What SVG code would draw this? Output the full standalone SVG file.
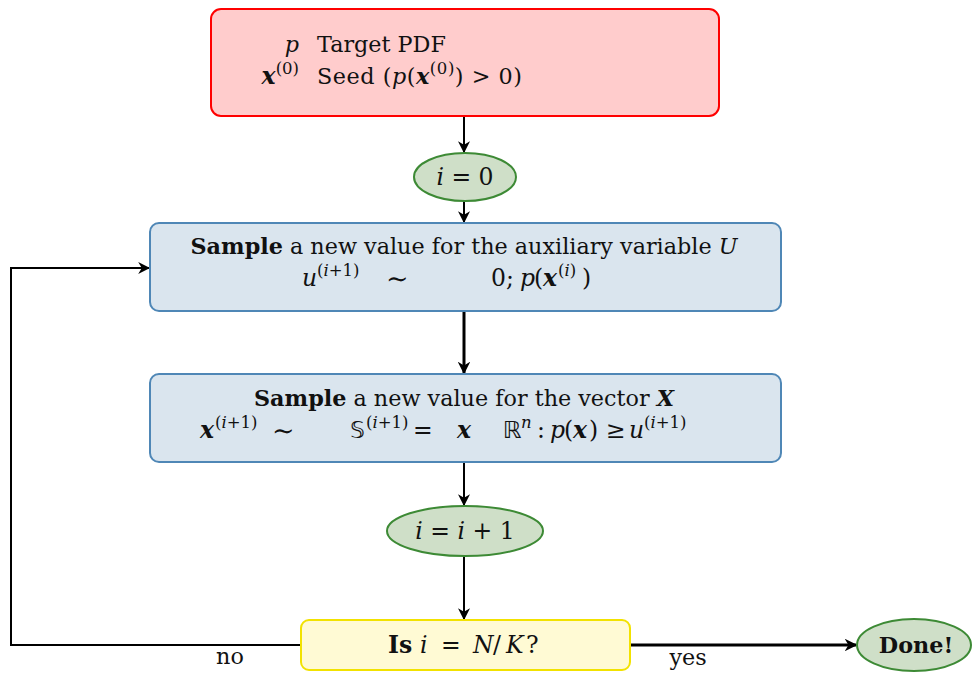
<svg xmlns="http://www.w3.org/2000/svg" width="972" height="673" viewBox="0 0 972 673">
<style>
text{font-family:"DejaVu Serif","Liberation Serif",serif;font-size:22.3px;fill:#111}
.it{font-style:italic}
.bi{font-style:italic;font-weight:bold}
.b{font-weight:bold}
.sup{font-size:16.5px}
.c{text-anchor:middle}
.e{text-anchor:end}
.conn{fill:none;stroke:#000;stroke-width:2}
.thick{stroke-width:3}
.red{fill:#ffcccc;stroke:#ff0000;stroke-width:2}
.blue{fill:#dae5ee;stroke:#4f87b6;stroke-width:2}
.green{fill:#cfdfc8;stroke:#3d8a35;stroke-width:2}
.yellow{fill:#fffad4;stroke:#f2e200;stroke-width:2}
.math{font-family:"DejaVu Sans","Noto Sans",sans-serif}
.m{font-size:23.5px}
.big{font-size:27px}
</style>
<defs>
<marker id="ah" viewBox="0 0 10 10" refX="9" refY="5" markerWidth="6" markerHeight="6" orient="auto" markerUnits="strokeWidth">
<path d="M0,0 L10,5 L0,10 L3,5 Z" fill="#000"/>
</marker>
<marker id="ah2" viewBox="0 0 10 10" refX="9" refY="5" markerWidth="4.2" markerHeight="4.2" orient="auto" markerUnits="strokeWidth">
<path d="M0,0 L10,5 L0,10 L3,5 Z" fill="#000"/>
</marker>
</defs>
<g id="connectors">
<line class="conn" x1="464" y1="117" x2="464" y2="152" marker-end="url(#ah)"/>
<line class="conn" x1="464" y1="201" x2="464" y2="222" marker-end="url(#ah)"/>
<line class="conn thick" x1="464" y1="312" x2="464" y2="373" marker-end="url(#ah2)"/>
<line class="conn" x1="464" y1="463" x2="464" y2="505" marker-end="url(#ah)"/>
<line class="conn" x1="464" y1="557" x2="464" y2="619" marker-end="url(#ah)"/>
<polyline class="conn" points="301,645 11,645 11,268 149,268" marker-end="url(#ah)"/>
<line class="conn thick" x1="631" y1="645" x2="856" y2="645" marker-end="url(#ah2)"/>
<text class="c" x="230" y="664">no</text>
<text class="c" x="688" y="665">yes</text>
</g>
<g id="input">
<rect class="red" x="211" y="9" width="508" height="107" rx="10"/>
<text class="e it" x="299" y="52">p</text>
<text x="317" y="52">Target PDF</text>
<text class="e" x="299" y="84"><tspan class="bi m">x</tspan><tspan class="sup" dy="-10">(0)</tspan></text>
<text x="317" y="84" textLength="205">Seed (<tspan class="it">p</tspan>(<tspan class="bi">x</tspan><tspan class="sup" dy="-10">(0)</tspan><tspan dy="10">) &gt; 0)</tspan></text>
</g>
<g id="init">
<ellipse class="green" cx="465" cy="177" rx="51" ry="24"/>
<text class="c m" x="465" y="185"><tspan class="it">i</tspan> = 0</text>
</g>
<g id="sampleU">
<rect class="blue" x="150" y="223" width="631" height="88" rx="9"/>
<text class="c" x="464" y="254"><tspan class="b">Sample</tspan> a new value for the auxiliary variable <tspan class="it">U</tspan></text>
<text class="m" y="286"><tspan class="it" x="302">u</tspan><tspan class="sup" x="317" dy="-10">(<tspan class="it">i</tspan>+1)</tspan></text>
<text class="big" x="386" y="288">∼</text>
<text class="m" y="286"><tspan x="491">0;</tspan><tspan class="it" x="520">p</tspan><tspan x="534">(</tspan><tspan class="bi" x="543">x</tspan><tspan class="sup" x="558" dy="-10">(<tspan class="it">i</tspan>)</tspan><tspan x="582" dy="10">)</tspan></text>
</g>
<g id="sampleX">
<rect class="blue" x="150" y="374" width="631" height="88" rx="9"/>
<text class="c" x="464" y="406"><tspan class="b">Sample</tspan> a new value for the vector <tspan class="bi">X</tspan></text>
<text class="m" y="438"><tspan class="bi" x="200">x</tspan><tspan class="sup" x="215" dy="-10">(<tspan class="it">i</tspan>+1)</tspan></text>
<text class="big" x="272" y="440">∼</text>
<text class="m" y="438"><tspan class="math" x="350">𝕊</tspan><tspan class="sup" x="366" dy="-10">(<tspan class="it">i</tspan>+1)</tspan><tspan x="413" dy="10">=</tspan></text>
<text class="bi m" x="457" y="438">x</text>
<text class="m" y="438"><tspan class="math" x="503">ℝ</tspan><tspan class="sup it" x="521" dy="-10">n</tspan><tspan x="537" dy="10">:</tspan><tspan class="it" x="550">p</tspan><tspan x="564">(</tspan><tspan class="bi" x="573">x</tspan><tspan x="589">)</tspan><tspan x="606">≥</tspan><tspan class="it" x="629">u</tspan><tspan class="sup" x="644" dy="-10">(<tspan class="it">i</tspan>+1)</tspan></text>
</g>
<g id="incr">
<ellipse class="green" cx="465" cy="531" rx="78" ry="25"/>
<text class="c m" x="465" y="539"><tspan class="it">i</tspan> = <tspan class="it">i</tspan> + 1</text>
</g>
<g id="test">
<rect class="yellow" x="301" y="620" width="329" height="50" rx="8"/>
<text class="m" y="653"><tspan class="b" x="388">Is</tspan><tspan class="it" x="420">i</tspan><tspan x="441">=</tspan><tspan class="it" x="473">N</tspan><tspan x="493">/</tspan><tspan class="it" x="506">K</tspan><tspan x="526">?</tspan></text>
</g>
<g id="done">
<ellipse class="green" cx="914" cy="645" rx="57" ry="26"/>
<text class="c b" x="916" y="653">Done!</text>
</g>
</svg>
